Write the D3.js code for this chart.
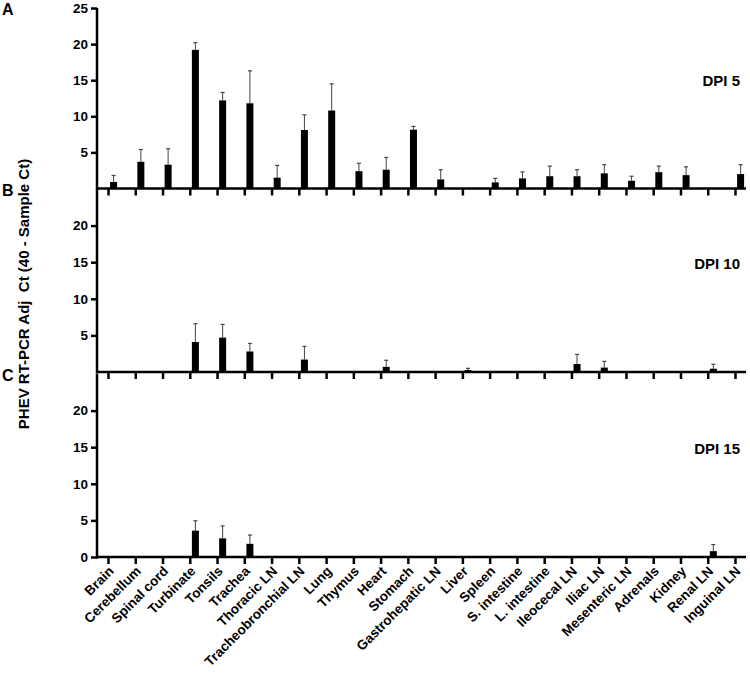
<!DOCTYPE html>
<html>
<head>
<meta charset="utf-8">
<script src="https://cdn.jsdelivr.net/npm/d3@7/dist/d3.min.js"></script>
<style>
  html, body { margin: 0; padding: 0; background: #fff; }
  svg text { font-family: "Liberation Sans", Arial, sans-serif; font-weight: bold; fill: #000; }
</style>
</head>
<body>
<svg id="chart" width="750" height="678"></svg>
<script>
const categories = ["Brain", "Cerebellum", "Spinal cord", "Turbinate", "Tonsils", "Trachea",
  "Thoracic LN", "Tracheobronchial LN", "Lung", "Thymus", "Heart", "Stomach",
  "Gastrohepatic LN", "Liver", "Spleen", "S. intestine", "L. intestine", "Ileocecal LN",
  "Iliac LN", "Mesenteric LN", "Adrenals", "Kidney", "Renal LN", "Inguinal LN"];

// mean values (null = not detected)
const dpi5Mean = [0.9, 3.7, 3.3, 19.2, 12.2, 11.8, 1.5, 8.1, 10.8, 2.4, 2.6, 8.15,
  1.26, null, 0.85, 1.4, 1.7, 1.7, 2.1, 1.07, 2.26, 1.85, null, 2.0];
const dpi5Err = [0.9, 1.7, 2.2, 1.0, 1.1, 4.5, 1.7, 2.1, 3.7, 1.1, 1.7, 0.45,
  1.34, null, 0.55, 0.9, 1.4, 0.9, 1.2, 0.63, 0.84, 1.15, null, 1.3];

const dpi10Mean = [null, null, null, 4.1, 4.7, 2.8, null, 1.7, null, null, 0.7, null,
  null, 0.27, null, null, null, 1.1, 0.6, null, null, null, 0.45, null];
const dpi10Err = [null, null, null, 2.5, 1.8, 1.1, null, 1.8, null, null, 0.9, null,
  null, 0.23, null, null, null, 1.3, 0.85, null, null, null, 0.6, null];

const dpi15Mean = [null, null, null, 3.6, 2.55, 1.8, null, null, null, null, null, null,
  null, null, null, null, null, null, null, null, null, null, 0.8, null];
const dpi15Err = [null, null, null, 1.35, 1.7, 1.2, null, null, null, null, null, null,
  null, null, null, null, null, null, null, null, null, null, 0.9, null];

const panelLetters = ["A", "B", "C"];
const panelTitles = ["DPI 5", "DPI 10", "DPI 15"];
const panelTicks = [[5, 10, 15, 20, 25], [5, 10, 15, 20], [0, 5, 10, 15, 20]];
const yDomain = [0, 25];
const yTitle = "PHEV RT-PCR Adj  Ct (40 - Sample Ct)";

const svg = d3.select("#chart");
const axisX0 = 97, axisX1 = 746;
const x = d3.scalePoint().domain(categories).range([108, 735]);
const barW = 7, barOff = 5.6;

const panels = [
  { mean: dpi5Mean, err: dpi5Err, range: [188.5, 8] },
  { mean: dpi10Mean, err: dpi10Err, range: [372, 189] },
  { mean: dpi15Mean, err: dpi15Err, range: [557, 374] }
];

panels.forEach((p, i) => {
  const y = d3.scaleLinear().domain(yDomain).range(p.range);
  const g = svg.append("g");
  const data = categories.map((c, k) => ({ c, m: p.mean[k], e: p.err[k] })).filter(d => d.m != null);

  // error bars
  const eb = g.selectAll(".eb").data(data).enter().append("g");
  eb.append("line")
    .attr("x1", d => x(d.c) + barOff).attr("x2", d => x(d.c) + barOff)
    .attr("y1", d => y(d.m)).attr("y2", d => y(d.m + d.e))
    .attr("stroke", "#444").attr("stroke-width", 1);
  eb.append("line")
    .attr("x1", d => x(d.c) + barOff - 2).attr("x2", d => x(d.c) + barOff + 2)
    .attr("y1", d => y(d.m + d.e)).attr("y2", d => y(d.m + d.e))
    .attr("stroke", "#444").attr("stroke-width", 1.2);

  // bars
  g.selectAll(".bar").data(data).enter().append("rect")
    .attr("x", d => x(d.c) + barOff - barW / 2)
    .attr("width", barW)
    .attr("y", d => y(d.m))
    .attr("height", d => y(0) - y(d.m))
    .attr("fill", "#000");

  // y axis
  const yAxis = d3.axisLeft(y).tickValues(panelTicks[i]).tickSize(6).tickPadding(3).tickFormat(d3.format("d"));
  const ya = g.append("g").attr("transform", `translate(${axisX0},0)`).call(yAxis);
  ya.select(".domain").remove();
  ya.selectAll(".tick line").attr("stroke", "#000").attr("stroke-width", 2.5);
  ya.selectAll(".tick text").style("font-size", "13.5px");
  g.append("line").attr("x1", axisX0).attr("x2", axisX0)
    .attr("y1", p.range[1]).attr("y2", p.range[0] + 1.5)
    .attr("stroke", "#000").attr("stroke-width", 2.5);

  // x axis
  const xAxis = d3.axisBottom(x).tickSize(7).tickFormat(i === 2 ? (d => d) : "");
  const xa = g.append("g").attr("transform", `translate(0,${p.range[0]})`).call(xAxis);
  xa.select(".domain").remove();
  xa.selectAll(".tick line").attr("stroke", "#000").attr("stroke-width", 2.5);
  g.append("line").attr("x1", axisX0 - 1).attr("x2", axisX1)
    .attr("y1", p.range[0]).attr("y2", p.range[0])
    .attr("stroke", "#000").attr("stroke-width", 2.5);
  if (i === 2) {
    xa.selectAll(".tick text")
      .style("font-size", "13.5px")
      .attr("text-anchor", "end")
      .attr("dy", null).attr("y", 0)
      .attr("transform", "translate(6,15) rotate(-45)");
  }

  // panel letter and title
  svg.append("text").attr("x", 2).attr("y", p.range[1] + 7)
    .style("font-size", "16px").text(panelLetters[i]);
  svg.append("text").attr("x", 740).attr("y", p.range[0] - 103)
    .attr("text-anchor", "end").style("font-size", "15px").text(panelTitles[i]);
});

svg.append("text")
  .attr("transform", "translate(29,294) rotate(-90)")
  .attr("text-anchor", "middle")
  .style("font-size", "15px")
  .style("white-space", "pre")
  .text(yTitle);
</script>
</body>
</html>
